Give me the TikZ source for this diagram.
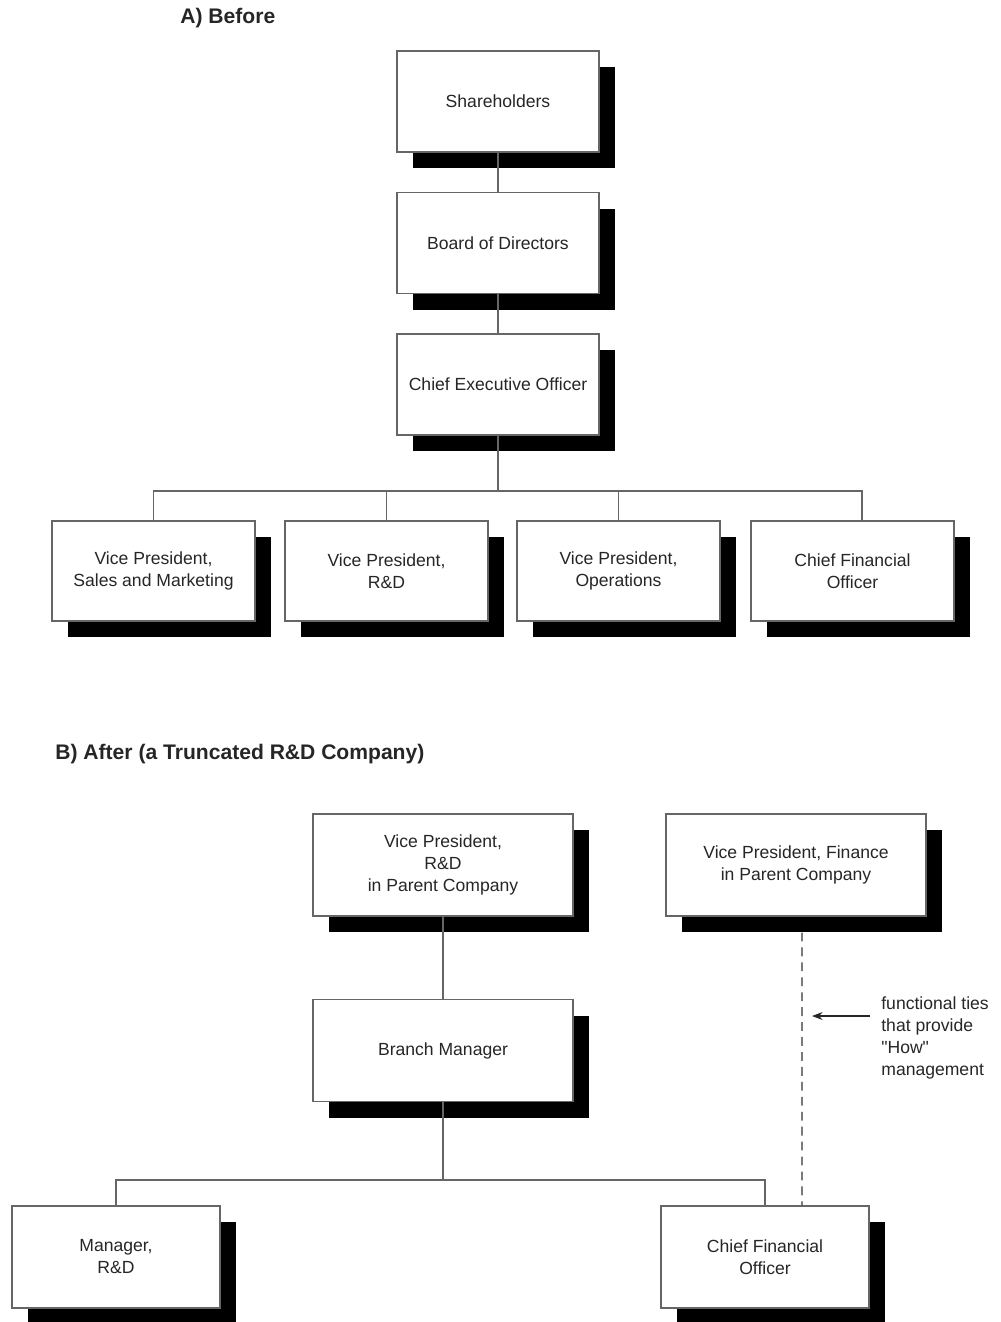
\documentclass[tikz,border=0pt]{standalone}
\usepackage{fontspec}
\setmainfont{Liberation Sans}
\newfontfamily\notefont{Liberation Sans}[Ligatures=TeXOff]
\usetikzlibrary{arrows.meta,positioning,shadows}

\begin{document}
\begin{tikzpicture}[
  orgbox/.style={draw=black!60, fill=white, line width=0.6pt,
                 minimum width=4.04cm, minimum height=2.02cm,
                 text=black!85, font=\fontsize{10}{12.5}\selectfont,
                 drop shadow={shadow xshift=0.32cm, shadow yshift=-0.32cm,
                              fill=black, opacity=1}},
  widebox/.style={orgbox, minimum width=5.2cm, minimum height=2.04cm},
  title/.style={anchor=west, inner sep=0pt, text=black!85,
                font=\fontsize{12}{14}\selectfont\bfseries},
  link/.style={draw=black!60, line width=0.6pt},
  arrow/.style={-{Stealth[length=6pt,width=4.5pt]}, line width=0.6pt, black!85},
  every node/.style={align=center}
]
\useasboundingbox (0,0) rectangle (20,-26.44);

%% A) Before
\node[title] (titleA) at (3.6,-0.36) {A) Before};

\node[orgbox] (share) at (9.96,-2.03) {Shareholders};
\node[orgbox] (board) at (9.96,-4.86) {Board of Directors};
\node[orgbox] (ceo)   at (9.96,-7.69) {Chief Executive Officer};
\draw[link] (share) -- (board);
\draw[link] (board) -- (ceo);

%% Officers below the CEO
\coordinate (busA) at (9.96,-9.82);
\draw[link] (ceo) -- (busA);
\foreach \name/\x/\dx/\txt in {vpsm/3.07/0/{Vice President,\\Sales and Marketing},
                              vprdA/7.73/0/{Vice President,\\R\&D},
                              vpops/12.37/0/{Vice President,\\Operations},
                              cfoA/17.05/0.19/{Chief Financial\\Officer}}{
  \node[orgbox, minimum width=4.06cm, minimum height=2cm] (\name) at (\x,-11.42) {\txt};
  \draw[link] (busA) -| ([xshift=\dx cm]\name.north);
}

%% B) After
\node[title] (titleB) at (1.1,-15.08) {B) After (a Truncated R\&D Company)};

\node[widebox] (vprd)   at (8.86,-17.30) {Vice President,\\R\&D\\in Parent Company};
\node[widebox] (vpfin)  at (15.92,-17.30) {Vice President, Finance\\in Parent Company};
\node[widebox] (branch) at (8.86,-21.01) {Branch Manager};
\draw[link] (vprd) -- (branch);

\node[orgbox, minimum width=4.16cm, minimum height=2.04cm] (mgr)  at (2.32,-25.14) {Manager,\\R\&D};
\node[orgbox, minimum width=4.16cm, minimum height=2.04cm] (cfoB) at (15.30,-25.14) {Chief Financial\\Officer};

\coordinate (busB) at (8.86,-23.60);
\draw[link] (branch) -- (busB);
\draw[link] (busB) -| (mgr.north);
\draw[link] (busB) -| (cfoB.north);

%% Functional ties
\draw[link, draw=black!80, dash pattern=on 5pt off 3.5pt]
  ([xshift=0.12cm, yshift=-0.32cm]vpfin.south) -- ([xshift=0.74cm]cfoB.north);

\node[anchor=west, inner sep=0pt, align=left, text=black!85,
      font=\notefont\fontsize{10}{12.5}\selectfont]
     (note) at (17.62,-20.76) {functional ties\\that provide\\"How"\\management};
\coordinate (tiestart) at (17.40,-20.32);
\coordinate (tie) at (16.24,-20.32);
\draw[arrow] (tiestart) -- (tie);

\end{tikzpicture}
\end{document}
